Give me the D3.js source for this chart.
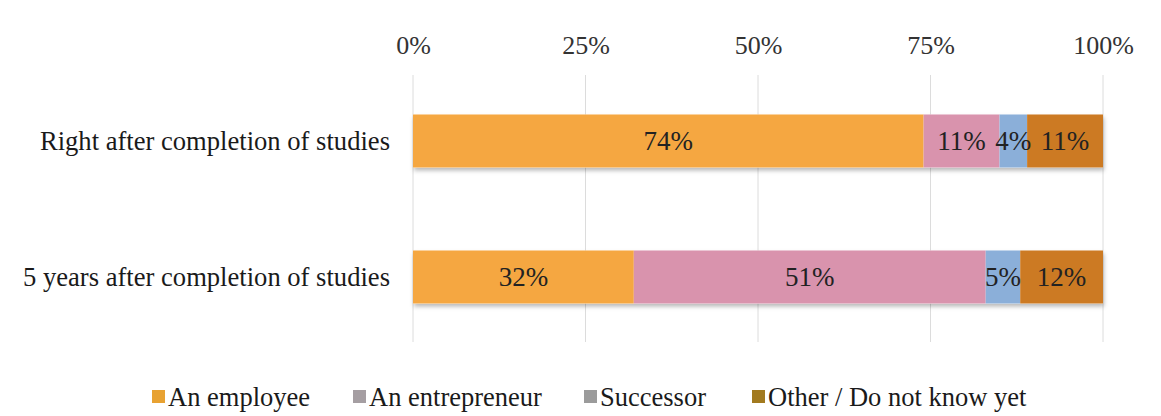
<!DOCTYPE html>
<html>
<head>
<meta charset="utf-8">
<script src="https://cdn.jsdelivr.net/npm/d3@7"></script>
<style>
  html, body { margin: 0; padding: 0; background: #fff; }
  svg { display: block; font-family: "Liberation Serif", "Times New Roman", serif; }
</style>
</head>
<body>
<svg id="chart" width="1161" height="416"></svg>
<script>
// Career intentions after studies, shares per answer (percent)
const categories = ["Right after completion of studies", "5 years after completion of studies"];
const seriesNames = ["An employee", "An entrepreneur", "Successor", "Other / Do not know yet"];
const employee = [74, 32];
const entrepreneur = [11, 51];
const successor = [4, 5];
const other = [11, 12];
const tickValues = [0, 25, 50, 75, 100];

const barColors = ["#f5a741", "#d993ad", "#8bafd9", "#cc7a23"];
const legendColors = ["#e8a232", "#a59ea2", "#9b9b9b", "#a27a1f"];

const rows = categories.map((c, i) => ({
  category: c,
  "An employee": employee[i],
  "An entrepreneur": entrepreneur[i],
  "Successor": successor[i],
  "Other / Do not know yet": other[i]
}));

const serif = "'Liberation Serif', 'Times New Roman', serif";
const svg = d3.select("#chart");
const x = d3.scaleLinear().domain([0, 100]).range([413, 1103]);
const y = d3.scaleBand().domain(categories).range([73, 345])
  .paddingInner(0.61).paddingOuter(0.305);
const color = d3.scaleOrdinal().domain(seriesNames).range(barColors);

const defs = svg.append("defs");
const shadow = defs.append("filter").attr("id", "barShadow")
  .attr("x", "-2%").attr("y", "-10%").attr("width", "104%").attr("height", "140%");
shadow.append("feDropShadow").attr("dx", 1).attr("dy", 3).attr("stdDeviation", 2)
  .attr("flood-color", "#000").attr("flood-opacity", 0.28);

// Vertical gridlines
svg.append("g").selectAll("line").data(tickValues).join("line")
  .attr("x1", d => x(d)).attr("x2", d => x(d))
  .attr("y1", 75).attr("y2", 342)
  .attr("stroke", "#dcdcdc").attr("stroke-width", 1);

// Top axis labels
const axis = d3.axisTop(x).tickValues(tickValues).tickFormat(d => d + "%").tickSize(0).tickPadding(0);
const axisG = svg.append("g").attr("transform", "translate(0,54)").call(axis);
axisG.select(".domain").remove();
axisG.attr("font-family", null).attr("font-size", null);
axisG.selectAll("text").style("font-family", serif).style("font-size", "26px")
  .attr("fill", "#333").attr("dy", 0);

// Category labels
const yAxis = d3.axisLeft(y).tickSize(0).tickPadding(0);
const yG = svg.append("g").attr("transform", "translate(390,0)").call(yAxis);
yG.select(".domain").remove();
yG.attr("font-family", null).attr("font-size", null);
yG.selectAll("text").style("font-family", serif).style("font-size", "26.6px")
  .attr("fill", "#1a1a1a");

// Bar shadows, then stacked bars on top
svg.append("g").selectAll("rect").data(categories).join("rect")
  .attr("x", x(0)).attr("width", x(100) - x(0))
  .attr("y", d => y(d)).attr("height", y.bandwidth())
  .attr("fill", "#fff").attr("filter", "url(#barShadow)");

const stacked = d3.stack().keys(seriesNames)(rows);
const layers = svg.append("g").selectAll("g").data(stacked).join("g")
  .attr("fill", d => color(d.key));

layers.selectAll("rect").data(d => d).join("rect")
  .attr("x", d => x(d[0]))
  .attr("width", d => x(d[1]) - x(d[0]))
  .attr("y", d => y(d.data.category))
  .attr("height", y.bandwidth());

// Value labels
const labels = svg.append("g");
stacked.forEach(layer => {
  labels.append("g").selectAll("text").data(layer).join("text")
    .attr("x", d => (x(d[0]) + x(d[1])) / 2)
    .attr("y", d => y(d.data.category) + y.bandwidth() / 2)
    .attr("dy", "0.35em")
    .attr("text-anchor", "middle")
    .style("font-family", serif)
    .style("font-size", "27px")
    .attr("fill", "#222")
    .text(d => (d[1] - d[0]) + "%");
});

// Legend
const legendX = [152, 353, 584, 752];
const legend = svg.append("g").selectAll("g").data(seriesNames).join("g")
  .attr("transform", (d, i) => `translate(${legendX[i]},397)`);
legend.append("rect").attr("x", 0).attr("y", -7).attr("width", 13).attr("height", 13)
  .attr("fill", (d, i) => legendColors[i]);
legend.append("text").attr("x", 16).attr("y", 0).attr("dy", "0.35em")
  .style("font-family", serif).style("font-size", "26.5px")
  .attr("fill", "#1a1a1a").text(d => d);
</script>
</body>
</html>
